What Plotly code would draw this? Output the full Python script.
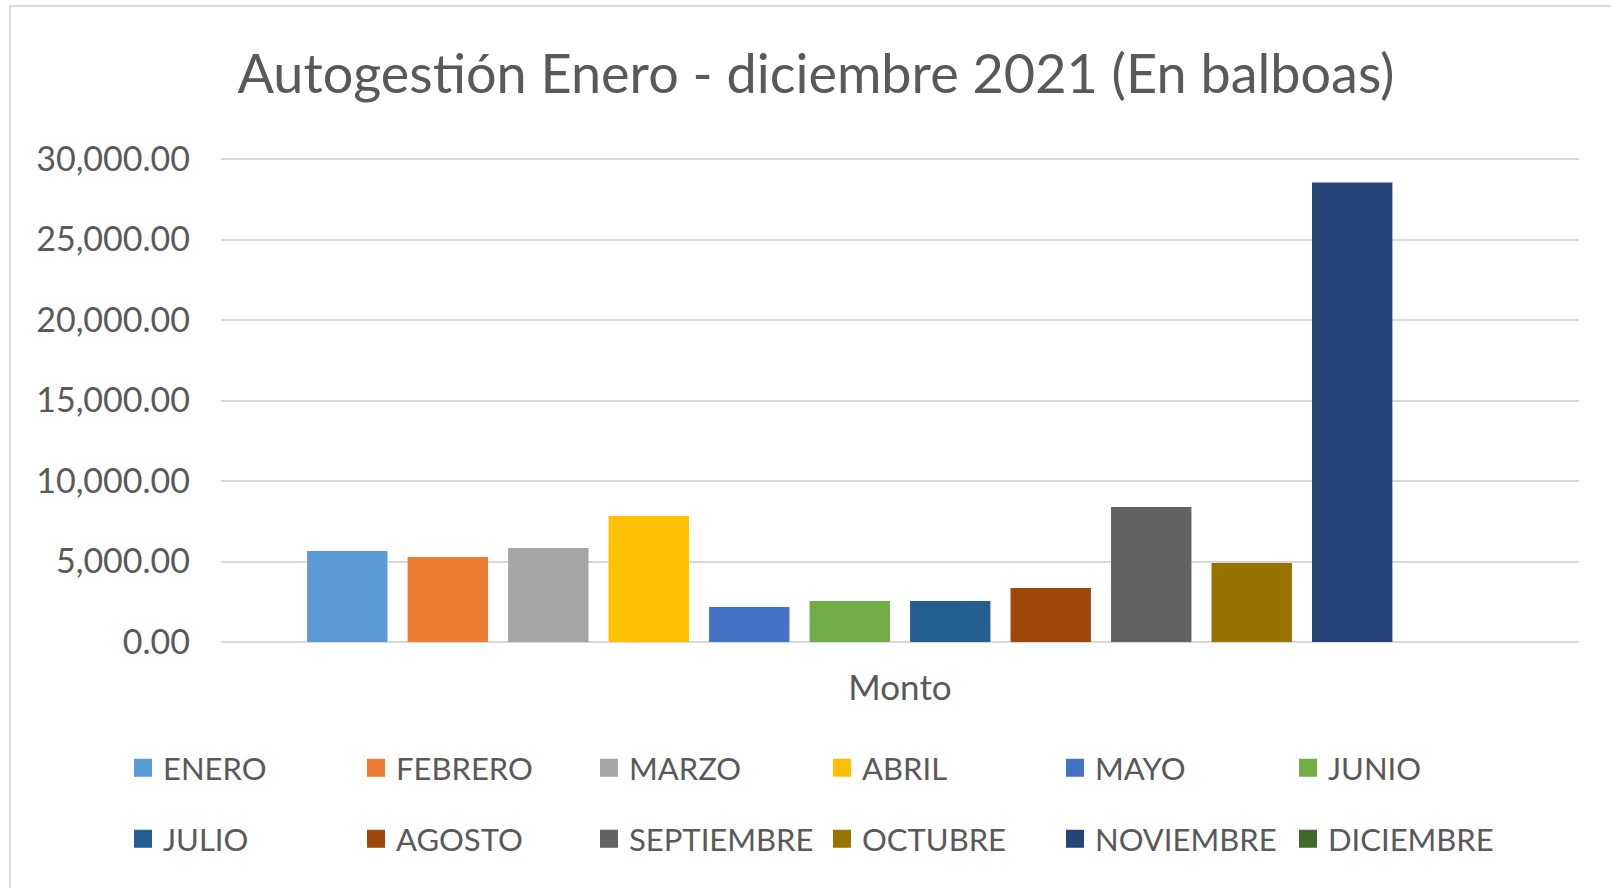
import plotly.graph_objects as go

categories = ["Monto"]
months = ["ENERO", "FEBRERO", "MARZO", "ABRIL", "MAYO", "JUNIO",
          "JULIO", "AGOSTO", "SEPTIEMBRE", "OCTUBRE", "NOVIEMBRE", "DICIEMBRE"]
values = [5650, 5280, 5840, 7830, 2170, 2550,
          2550, 3360, 8390, 4910, 28540, 0]
colors = ["#5B9BD5", "#ED7D31", "#A5A5A5", "#FFC000", "#4472C4", "#70AD47",
          "#255E91", "#9E480E", "#636363", "#997300", "#264478", "#43682B"]
y_ticks = [0, 5000, 10000, 15000, 20000, 25000, 30000]
title_text = "Autogestión Enero - diciembre 2021 (En balboas)"

FONT = "Lato"
GRAY = "#595959"
W, H = 1611, 888
L, R, T, B = 221, 32, 156, 246
Y_TOP = 30186

fig = go.Figure()
# bars
for m, v, c in zip(months, values, colors):
    fig.add_trace(go.Bar(
        x=categories, y=[v], name=m,
        marker=dict(color=c, line=dict(width=0)),
        showlegend=False, legendgroup=m,
        hoverinfo="skip",
    ))
# legend entries (square swatches, Excel-like)
for i, (m, c) in enumerate(zip(months, colors)):
    fig.add_trace(go.Scatter(
        x=[None], y=[None], name=m, mode="markers",
        marker=dict(symbol="square", size=16, color=c, line=dict(color=c, width=2)),
        legend="legend" if i < 6 else "legend2",
        legendgroup=m, hoverinfo="skip",
    ))

pw = W - L - R
ph = H - T - B

def px_x(x):
    return (x - L) / pw

def px_y(y):
    return (H - B - y) / ph

legend_common = dict(orientation="h", xref="paper", yref="paper",
                     xanchor="left", yanchor="middle",
                     entrywidth=188, entrywidthmode="pixels",
                     font=dict(family=FONT, size=31, color=GRAY),
                     bgcolor="rgba(0,0,0,0)", traceorder="normal",
                     itemsizing="trace")

fig.update_layout(
    width=W, height=H,
    margin=dict(l=L, r=R, t=T, b=B, autoexpand=False),
    paper_bgcolor="white", plot_bgcolor="white",
    font=dict(family=FONT, color=GRAY),
    barmode="group",
    bargap=0.112,
    bargroupgap=0.2,
    title=dict(text=title_text, x=816 / W, xanchor="center", xref="container",
               y=1 - 74 / H, yanchor="middle", yref="container",
               font=dict(family=FONT, size=54, color=GRAY)),
    xaxis=dict(showgrid=False, showline=False, ticks="", zeroline=False,
               tickfont=dict(family=FONT, size=35, color=GRAY),
               ticklabelstandoff=22, automargin=False),
    yaxis=dict(range=[0, Y_TOP], tickvals=y_ticks, tickformat=",.2f",
               showgrid=True, gridcolor="#D9D9D9", gridwidth=2,
               zeroline=True, zerolinecolor="#D9D9D9", zerolinewidth=2,
               showline=False, ticks="",
               tickfont=dict(family=FONT, size=34, color=GRAY),
               ticklabelstandoff=30, automargin=False),
    legend=dict(legend_common, x=px_x(123), y=px_y(768)),
    legend2=dict(legend_common, x=px_x(123), y=px_y(839)),
    showlegend=True,
    shapes=[dict(type="rect", xref="paper", yref="paper",
                 x0=px_x(10), x1=px_x(W + 20), y0=px_y(H + 20), y1=px_y(6),
                 line=dict(color="#D9D9D9", width=2), fillcolor="rgba(0,0,0,0)",
                 layer="below")],
)

fig.write_html(
    "out.html",
    config={"displayModeBar": False},
    post_script="document.body.style.margin='0';document.body.style.overflow='hidden';",
)
